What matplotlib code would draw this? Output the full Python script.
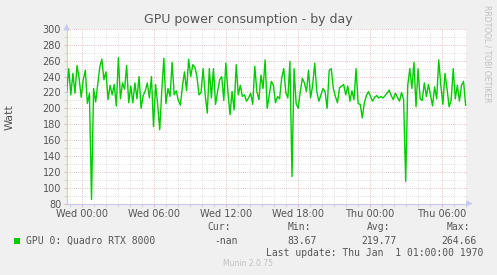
import numpy as np
import matplotlib.pyplot as plt
from matplotlib.ticker import MultipleLocator

# GPU power, one reading about every 10 minutes
watt_1 = [221, 250, 217, 244, 219, 254, 238, 214, 236, 248, 206, 219, 85, 225, 208, 230,
          252, 262, 236, 246, 211, 229, 217, 230, 203, 264, 212, 232, 224, 254, 207, 228]
watt_2 = [207, 232, 212, 240, 200, 216, 222, 232, 213, 240, 177, 230, 205, 173, 222, 263,
          206, 225, 215, 258, 217, 222, 210, 204, 228, 246, 222, 262, 240, 255, 252, 240]
watt_3 = [217, 220, 250, 217, 194, 250, 213, 250, 205, 221, 236, 240, 210, 257, 221, 192,
          221, 198, 255, 217, 229, 215, 217, 209, 213, 219, 205, 253, 221, 211, 242, 225]
watt_4 = [261, 200, 217, 234, 229, 207, 215, 212, 238, 250, 220, 213, 259, 114, 250, 206,
          200, 221, 238, 232, 221, 248, 213, 229, 257, 221, 209, 217, 225, 221, 200, 248]
watt_5 = [250, 225, 215, 207, 226, 228, 230, 217, 228, 209, 222, 211, 250, 206, 205, 188,
          207, 216, 221, 215, 209, 214, 216, 213, 215, 213, 216, 219, 223, 216, 211, 219]
watt_6 = [214, 209, 220, 211, 108, 229, 250, 225, 258, 202, 250, 212, 210, 232, 215, 230,
          217, 203, 227, 212, 261, 229, 205, 244, 225, 202, 210, 250, 212, 229, 209, 229,
          234, 204]
watts = watt_1 + watt_2 + watt_3 + watt_4 + watt_5 + watt_6

# hours since Wed 00:00
t_first, t_last = -1.275, 31.97
hours = np.linspace(t_first, t_last, len(watts))

tick_hours = [0, 6, 12, 18, 24, 30]
tick_labels = ["Wed 00:00", "Wed 06:00", "Wed 12:00", "Wed 18:00", "Thu 00:00", "Thu 06:00"]

series_name = "GPU 0: Quadro RTX 8000"
stat_names = ["Cur:", "Min:", "Avg:", "Max:"]
stat_values = ["-nan", "83.67", "219.77", "264.66"]

W, H = 497, 275
TXT = "#555555"
fig = plt.figure(figsize=(W / 100, H / 100), dpi=100, facecolor="#f0f0f0")


def fx(x):
    return x / W


def fy(y):
    return 1 - y / H


ax = fig.add_axes([fx(66.7), fy(203.5), (466.7 - 66.7) / W, (203.5 - 29) / H])
ax.set_facecolor("white")
ax.set_xlim(-1.275, 32.06)
ax.set_ylim(80, 300)

# grid: grey dotted minor, red dotted major
dots = (0, (1, 1.6))
for h in np.arange(-1, 33, 1):
    if h % 6 != 0:
        ax.axvline(h, color="#d6d6d6", lw=0.6, ls=dots, zorder=0)
for v in range(90, 300, 20):
    ax.axhline(v, color="#d6d6d6", lw=0.6, ls=dots, zorder=0)
for h in tick_hours:
    ax.axvline(h, color="#e6a8a8", lw=0.6, ls=dots, zorder=0)
for v in range(100, 301, 20):
    ax.axhline(v, color="#e6a8a8", lw=0.6, ls=dots, zorder=0)

ax.plot(hours, watts, color="#00cc00", lw=1.0, zorder=3)

for s in ["top", "right"]:
    ax.spines[s].set_visible(False)
for s in ["left", "bottom"]:
    ax.spines[s].set_color("#c8c8f0")
    ax.spines[s].set_linewidth(0.8)

ax.set_xticks(tick_hours)
ax.set_xticklabels(tick_labels)
ax.set_yticks(range(80, 301, 20))
ax.yaxis.set_minor_locator(MultipleLocator(10))
ax.xaxis.set_minor_locator(MultipleLocator(1))
ax.tick_params(axis="both", which="major", labelsize=7, labelcolor=TXT, length=2,
               width=0.6, color="#e6a8a8", pad=2)
ax.tick_params(axis="both", which="minor", length=2, width=0.6, color="#cccccc")

# axis arrows
ax.annotate("", xy=(0, 1.045), xytext=(0, 0.99), xycoords="axes fraction",
            arrowprops=dict(arrowstyle="-|>,head_width=0.18,head_length=0.35",
                            color="#c8c8f0", lw=0.8), annotation_clip=False)
ax.annotate("", xy=(1.022, 0), xytext=(0.995, 0), xycoords="axes fraction",
            arrowprops=dict(arrowstyle="-|>,head_width=0.18,head_length=0.35",
                            color="#c8c8f0", lw=0.8), annotation_clip=False)

fig.text(fx(248.5), fy(19), "GPU power consumption - by day", ha="center", va="center",
         fontsize=9, color=TXT)
fig.text(fx(10), fy(117), "Watt", rotation=90, ha="center", va="center",
         fontsize=8, color=TXT)
fig.text(fx(487), fy(5), "RRDTOOL / TOBI OETIKER", rotation=270, ha="center", va="top",
         fontsize=5.5, color="#c0c0c0")

# legend block
fig.patches.append(plt.Rectangle((fx(13.5), fy(243.5)), 6 / W, 6 / H, transform=fig.transFigure,
                                 facecolor="#00cc00", edgecolor="none"))
mono = dict(family="DejaVu Sans Mono", fontsize=7, color=TXT, va="center")
fig.text(fx(26), fy(240.5), series_name, ha="left", **mono)
name_right = [231, 311, 390, 470]
value_right = [238, 317, 397, 477]
for name, value, xn, xv in zip(stat_names, stat_values, name_right, value_right):
    fig.text(fx(xn), fy(227.5), name, ha="right", **mono)
    fig.text(fx(xv), fy(240.5), value, ha="right", **mono)
fig.text(fx(483), fy(252.5), "Last update: Thu Jan  1 01:00:00 1970", ha="right", **mono)
fig.text(fx(248), fy(264), "Munin 2.0.75", ha="center", va="center", fontsize=5.5,
         color="#c0c0c0")

fig.savefig("out.png", dpi=100, facecolor=fig.get_facecolor())
